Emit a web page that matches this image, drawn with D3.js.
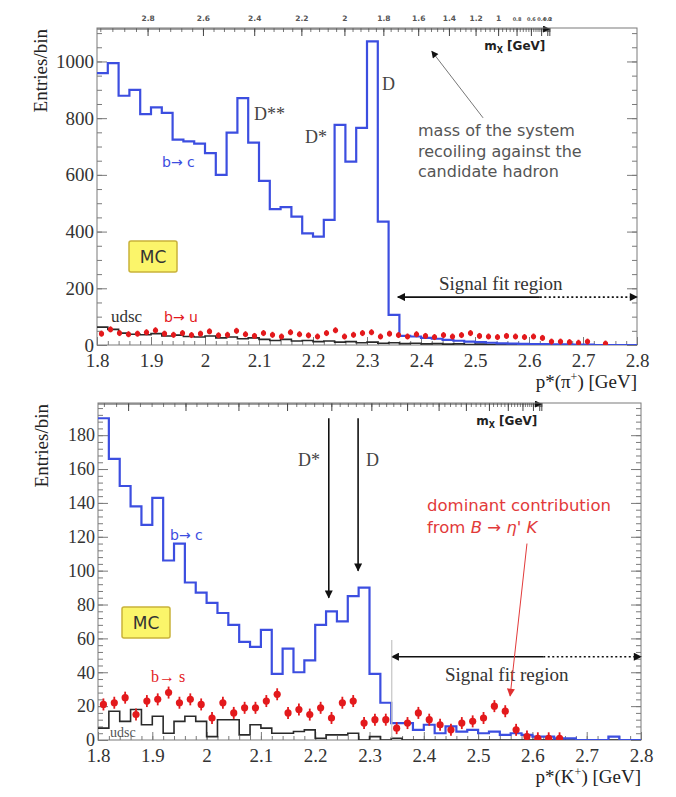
<!DOCTYPE html>
<html><head><meta charset="utf-8">
<script src="https://cdn.jsdelivr.net/npm/d3@7"></script>
<style>body{margin:0;background:#fff}</style>
</head><body>
<svg id="c" width="676" height="797" xmlns="http://www.w3.org/2000/svg"></svg>
<script>
// ---------- data ----------
const binLow = d3.range(50).map(i => +(1.8 + 0.02 * i).toFixed(2));      // 0.02 GeV bins
const redBinLowTop = d3.range(60).map(i => 1.8 + i / 60);                   // finer bins for b->u
const xTickValues = [1.8, 1.9, 2.0, 2.1, 2.2, 2.3, 2.4, 2.5, 2.6, 2.7, 2.8];
const topYTicks = [0, 200, 400, 600, 800, 1000];
const botYTicks = [0, 20, 40, 60, 80, 100, 120, 140, 160, 180];
const mxTickLabels = [2.8, 2.6, 2.4, 2.2, 2.0, 1.8, 1.6, 1.4, 1.2, 1.0, 0.8, 0.6, 0.4, 0.2, 0.0];

// top panel: p*(pi+)
const topBlue = [959, 994, 879, 900, 814, 838, 819, 724, 718, 710,
                 677, 600, 749, 871, 714, 579, 479, 486, 453, 394,
                 382, 441, 776, 647, 766, 1071, 435, 106, 32, 30,
                 25, 22, 18, 15, 12, 10, 8, 6, 5, 4,
                 3, 3, 2, 2, 1, 1, 0, 0, 0, 0];
const topBlack = [63, 55, 42, 38, 36, 40, 32, 35, 30, 28,
                  32, 25, 28, 22, 25, 20, 16, 20, 14, 16,
                  12, 14, 10, 12, 8, 10, 6, 8, 5, 6,
                  4, 5, 3, 4, 2, 3, 2, 2, 1, 1,
                  1, 0, 1, 0, 0, 0, 0, 0, 0, 0];
const topRed = [40, 55, 42, 38, 40, 45, 52, 40, 36, 42,
                35, 40, 48, 34, 36, 50, 38, 32, 42, 36,
                30, 45, 38, 34, 30, 42, 52, 30, 36, 42,
                45, 30, 40, 35, 30, 38, 32, 28, 35, 30,
                35, 42, 32, 30, 28, 32, 30, 28, 30, 25,
                12, 12, 10, 8, 12, 0, 5, 0, 0, 0];

// bottom panel: p*(K+)
const botBlue = [190, 166, 150, 138, 127, 143, 106, 116, 93, 87,
                 81, 75, 68, 58, 55, 65, 39, 54, 40, 47,
                 68, 76, 70, 85, 90, 39, 22, 10, 10, 6,
                 9, 4, 8, 5, 6, 4, 5, 3, 4, 3,
                 2, 2, 1, 1, 0, 0, 0, 2, 0, 0];
const botBlack = [7, 17, 11, 18, 9, 14, 4, 11, 14, 11,
                  2, 12, 12, 3, 9, 7, 4, 4, 5, 6,
                  1, 3, 3, 4, 0, 2, 0, 1, 0, 0,
                  0, 0, 0, 0, 0, 0, 0, 0, 0, 0,
                  0, 0, 0, 0, 0, 0, 0, 0, 0, 0];
const botRed = [21, 22, 25, 15, 23, 24, 28, 22, 24, 21,
                13, 22, 16, 19, 19, 23, 27, 16, 18, 15,
                19, 13, 22, 23, 10, 12, 12, 7, 10, 16,
                12, 9, 6, 10, 11, 13, 20, 17, 6, 2,
                1, 1, 1, 0, 0, 0, 0, 0, 0, 0];

// ---------- drawing ----------
const svg = d3.select("#c");
const defs = svg.append("defs");
function marker(id, color, w, h) {
  defs.append("marker").attr("id", id).attr("viewBox", "0 0 10 10")
    .attr("refX", 9).attr("refY", 5).attr("markerWidth", w).attr("markerHeight", h)
    .attr("orient", "auto-start-reverse").attr("markerUnits", "userSpaceOnUse")
    .append("path").attr("d", "M0,0L10,5L0,10z").attr("fill", color);
}
marker("ab", "#111", 11, 8);
marker("ar", "#e03030", 10, 8);
marker("as", "#111", 9, 7);

const mB = 5.279;
function pOf(mX, mh) {
  const E = (mB * mB + mh * mh - mX * mX) / (2 * mB);
  return Math.sqrt(Math.max(E * E - mh * mh, 0));
}

const BLUE = "#3c4ee0", RED = "#e3191c", FRAME = "#7a7a7a";
const serif = "Liberation Serif, DejaVu Serif, serif";
const sans = "DejaVu Sans, Verdana, sans-serif";

function panel(cfg) {
  const g = svg.append("g");
  const x = d3.scaleLinear().domain([1.8, 2.8]).range([cfg.left, cfg.right]);
  const y = d3.scaleLinear().domain([0, cfg.ymax]).range([cfg.bottom, cfg.top]);
  const clipId = "clip" + cfg.id;
  defs.append("clipPath").attr("id", clipId).append("rect")
    .attr("x", cfg.left).attr("y", cfg.top).attr("width", cfg.right - cfg.left).attr("height", cfg.bottom - cfg.top);

  // m_X scale (polylinear through p*)
  const grid = d3.range(0, 3.0001, 0.005);
  const mx = d3.scaleLinear().domain(grid).range(grid.map(m => x(pOf(m, cfg.mh))));
  const mxMax = d3.max(grid.filter(m => pOf(m, cfg.mh) >= 1.8));
  const mxMinor = d3.range(0, mxMax, 0.04).filter(m => pOf(m, cfg.mh) >= 1.8);

  const styleAxis = sel => {
    sel.select(".domain").remove();
    sel.selectAll("line").attr("stroke", FRAME);
    sel.selectAll("text").attr("fill", "#333");
  };
  // left
  g.append("g").attr("transform", `translate(${cfg.left},0)`)
    .call(d3.axisLeft(y).tickValues(d3.range(0, cfg.ymax, cfg.minorY)).tickSize(-5).tickFormat(""))
    .call(styleAxis);
  g.append("g").attr("transform", `translate(${cfg.left},0)`)
    .call(d3.axisLeft(y).tickValues(cfg.yTicks).tickSize(-10).tickPadding(3).tickFormat(d3.format("d")))
    .call(styleAxis)
    .selectAll("text").attr("font-family", serif).attr("font-size", cfg.yFont);
  // right
  g.append("g").attr("transform", `translate(${cfg.right},0)`)
    .call(d3.axisRight(y).tickValues(d3.range(0, cfg.ymax, cfg.minorY)).tickSize(-5).tickFormat(""))
    .call(styleAxis);
  g.append("g").attr("transform", `translate(${cfg.right},0)`)
    .call(d3.axisRight(y).tickValues(cfg.yTicks).tickSize(-10).tickFormat(""))
    .call(styleAxis);
  // bottom
  g.append("g").attr("transform", `translate(0,${cfg.bottom})`)
    .call(d3.axisBottom(x).tickValues(d3.range(1.8, 2.8001, 0.02)).tickSize(-4).tickFormat(""))
    .call(styleAxis);
  g.append("g").attr("transform", `translate(0,${cfg.bottom})`)
    .call(d3.axisBottom(x).tickValues(xTickValues).tickSize(-8).tickPadding(6).tickFormat(d3.format("~g")))
    .call(styleAxis)
    .selectAll("text").attr("font-family", serif).attr("font-size", 19).attr("dy", "0.85em");
  // top m_X axis
  g.append("g").attr("transform", `translate(0,${cfg.top})`)
    .call(d3.axisTop(mx).tickValues(mxMinor).tickSize(-4).tickFormat(""))
    .call(styleAxis);
  const ta = g.append("g").attr("transform", `translate(0,${cfg.top})`)
    .call(d3.axisTop(mx).tickValues(mxTickLabels).tickSize(-8).tickPadding(7)
      .tickFormat(cfg.mxLabels ? d3.format("~g") : ""))
    .call(styleAxis);
  ta.selectAll("text").attr("font-family", sans).attr("font-weight", "bold").attr("fill", "#555")
    .attr("font-size", d => d < 0.9 ? 5 : 7.5);
  ta.selectAll("line").attr("stroke", "#444");
  g.append("line").attr("x1", cfg.left).attr("x2", mx(0)).attr("y1", cfg.top + 1).attr("y2", cfg.top + 1)
    .attr("stroke", "#444").attr("stroke-width", 1).attr("marker-end", "url(#as)");

  // frame
  g.append("rect").attr("x", cfg.left).attr("y", cfg.top).attr("width", cfg.right - cfg.left)
    .attr("height", cfg.bottom - cfg.top).attr("fill", "none").attr("stroke", FRAME).attr("stroke-width", 1);

  // histograms
  const histPts = vals => vals.map((v, i) => [binLow[i], v]).concat([[2.8, vals[vals.length - 1]]]);
  const line = d3.line().x(d => x(d[0])).y(d => y(d[1])).curve(d3.curveStepAfter);
  const plot = g.append("g").attr("clip-path", `url(#${clipId})`);
  plot.append("path").attr("d", line(histPts(cfg.black))).attr("fill", "none")
    .attr("stroke", "#2a2a2a").attr("stroke-width", 1.6);
  plot.append("path").attr("d", line(histPts(cfg.blue))).attr("fill", "none")
    .attr("stroke", BLUE).attr("stroke-width", 2.2);

  // red points
  const rw = cfg.redWidth;
  const pts = cfg.red.map((v, i) => ({ xc: cfg.redLow[i] + rw / 2, v })).filter(d => d.v > 0);
  const rp = plot.append("g");
  rp.selectAll("line.e").data(pts).join("line")
    .attr("x1", d => x(d.xc)).attr("x2", d => x(d.xc))
    .attr("y1", d => y(d.v) - cfg.errPx).attr("y2", d => y(d.v) + cfg.errPx)
    .attr("stroke", RED).attr("stroke-width", 1.8);
  rp.selectAll("circle").data(pts).join("circle")
    .attr("cx", d => x(d.xc)).attr("cy", d => y(d.v)).attr("r", cfg.r).attr("fill", RED);

  // m_X label
  const ml = g.append("text").attr("x", mx(0) - 4).attr("y", cfg.top + 22).attr("text-anchor", "end")
    .attr("font-family", sans).attr("font-weight", "bold").attr("font-size", 12).attr("fill", "#222");
  ml.append("tspan").text("m");
  ml.append("tspan").attr("font-size", 8).attr("dy", 3).text("X");
  ml.append("tspan").attr("dy", -3).text(" [GeV]");

  // y title
  g.append("text").attr("transform", `translate(${cfg.left - 57},${cfg.top + 1}) rotate(-90)`)
    .attr("text-anchor", "end").attr("dy", "0.35em").attr("font-family", serif).attr("font-size", 19)
    .attr("fill", "#222").text("Entries/bin");
  // x title
  const xt = g.append("text").attr("x", cfg.right).attr("y", cfg.bottom + 43).attr("text-anchor", "end")
    .attr("font-family", serif).attr("font-size", 19).attr("fill", "#222");
  xt.append("tspan").text("p*(" + cfg.hadron);
  xt.append("tspan").attr("font-size", 12).attr("dy", -7).text("+");
  xt.append("tspan").attr("dy", 7).text(") [GeV]");

  // MC box
  g.append("rect").attr("x", cfg.mc[0]).attr("y", cfg.mc[1]).attr("width", 48).attr("height", 31)
    .attr("fill", "#fbf56a").attr("stroke", "#c9b23a").attr("stroke-width", 1.5).attr("rx", 2);
  g.append("text").attr("x", cfg.mc[0] + 24).attr("y", cfg.mc[1] + 22).attr("text-anchor", "middle")
    .attr("font-family", sans).attr("font-size", 17).attr("fill", "#333").text("MC");

  // signal fit region
  const sy = y(cfg.sigY);
  g.append("line").attr("x1", x(cfg.sigStart)).attr("x2", x(2.62)).attr("y1", sy).attr("y2", sy)
    .attr("stroke", "#111").attr("stroke-width", 1.6).attr("marker-start", "url(#ab)");
  g.append("line").attr("x1", x(2.62)).attr("x2", x(2.8)).attr("y1", sy).attr("y2", sy)
    .attr("stroke", "#111").attr("stroke-width", 1.6).attr("stroke-dasharray", "2,2.5").attr("marker-end", "url(#ab)");
  g.append("text").attr("x", cfg.sigText[0]).attr("y", cfg.sigText[1]).attr("font-family", serif)
    .attr("font-size", 19).attr("fill", "#333").text("Signal fit region");
  return { g, x, y };
}

// ---- top panel ----
const T = panel({
  id: "t", left: 97, right: 637, top: 28, bottom: 345, ymax: 1118, minorY: 50,
  yTicks: topYTicks, yFont: 19, mh: 0.13957, mxLabels: true, hadron: "π",
  blue: topBlue, black: topBlack, red: topRed, redLow: redBinLowTop, redWidth: 1 / 60,
  errPx: 3, r: 2.6, mc: [129, 241], sigY: 169, sigStart: 2.357, sigText: [439, 290]
});
const tg = T.g;
[["D**", 254, 120], ["D*", 305, 143], ["D", 382, 90]].forEach(([t, xx, yy]) => {
  tg.append("text").attr("x", xx).attr("y", yy).attr("font-family", serif).attr("font-size", 18)
    .attr("fill", "#444").text(t);
});
tg.append("text").attr("x", 162).attr("y", 167).attr("font-family", sans).attr("font-size", 14)
  .attr("fill", BLUE).text("b→ c");
tg.append("text").attr("x", 111).attr("y", 322).attr("font-family", serif).attr("font-size", 17)
  .attr("fill", "#333").text("udsc");
tg.append("text").attr("x", 164).attr("y", 322).attr("font-family", sans).attr("font-size", 14)
  .attr("fill", RED).text("b→ u");
["mass of the system", "recoiling against the", "candidate hadron"].forEach((t, i) => {
  tg.append("text").attr("x", 418).attr("y", 136 + i * 20.5).attr("font-family", sans).attr("font-size", 16)
    .attr("fill", "#555").text(t);
});
tg.append("line").attr("x1", T.x(2.515)).attr("y1", T.y(801)).attr("x2", T.x(2.42)).attr("y2", T.y(1036))
  .attr("stroke", "#777").attr("stroke-width", 1).attr("marker-end", "url(#as)");

// ---- bottom panel ----
const B = panel({
  id: "b", left: 98, right: 641, top: 403, bottom: 740, ymax: 199, minorY: 4,
  yTicks: botYTicks, yFont: 18, mh: 0.49368, mxLabels: false, hadron: "K",
  blue: botBlue, black: botBlack, red: botRed, redLow: binLow, redWidth: 0.02,
  errPx: 6, r: 3.6, mc: [122, 607], sigY: 49.2, sigStart: 2.341, sigText: [445, 681]
});
const bg = B.g;
bg.append("line").attr("x1", B.x(2.341)).attr("x2", B.x(2.341)).attr("y1", B.y(59)).attr("y2", B.y(1))
  .attr("stroke", "#c4c4c4").attr("stroke-width", 1.2);
bg.append("text").attr("x", 298).attr("y", 466).attr("font-family", serif).attr("font-size", 18).attr("fill", "#444").text("D*");
bg.append("text").attr("x", 366).attr("y", 466).attr("font-family", serif).attr("font-size", 18).attr("fill", "#444").text("D");
bg.append("line").attr("x1", B.x(2.225)).attr("x2", B.x(2.225)).attr("y1", B.y(190)).attr("y2", B.y(84))
  .attr("stroke", "#111").attr("stroke-width", 1.6).attr("marker-end", "url(#ab)");
bg.append("line").attr("x1", B.x(2.279)).attr("x2", B.x(2.279)).attr("y1", B.y(190)).attr("y2", B.y(100))
  .attr("stroke", "#111").attr("stroke-width", 1.6).attr("marker-end", "url(#ab)");
bg.append("text").attr("x", 170).attr("y", 540).attr("font-family", sans).attr("font-size", 14)
  .attr("fill", BLUE).text("b→ c");
bg.append("text").attr("x", 151).attr("y", 682).attr("font-family", serif).attr("font-size", 16)
  .attr("fill", RED).text("b→ s");
bg.append("text").attr("x", 110).attr("y", 737).attr("font-family", serif).attr("font-size", 14)
  .attr("fill", "#555").text("udsc");
bg.append("text").attr("x", 427).attr("y", 511).attr("font-family", sans).attr("font-size", 16.5)
  .attr("fill", "#e23a3a").text("dominant contribution");
const fr = bg.append("text").attr("x", 427).attr("y", 533).attr("font-family", sans).attr("font-size", 16.5)
  .attr("fill", "#e23a3a");
fr.append("tspan").text("from ");
fr.append("tspan").attr("font-style", "italic").text("B");
fr.append("tspan").text(" → ");
fr.append("tspan").attr("font-style", "italic").text("η' K");
bg.append("line").attr("x1", B.x(2.590)).attr("y1", B.y(116)).attr("x2", B.x(2.559)).attr("y2", B.y(26))
  .attr("stroke", "#e23a3a").attr("stroke-width", 1).attr("marker-end", "url(#ar)");
</script>
</body></html>
